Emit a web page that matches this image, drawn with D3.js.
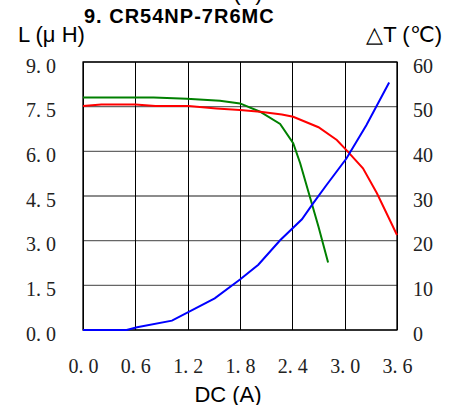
<!DOCTYPE html>
<html>
<head>
<meta charset="utf-8">
<script src="https://cdn.jsdelivr.net/npm/d3@7"></script>
<style>
  body { margin: 0; background: #fff; }
  svg { display: block; }
</style>
</head>
<body>
<svg></svg>
<script>
// current DC (A)
var xTicks = [0.0, 0.6, 1.2, 1.8, 2.4, 3.0, 3.6];
var lTicks = [0.0, 1.5, 3.0, 4.5, 6.0, 7.5, 9.0];
var tTicks = [0, 10, 20, 30, 40, 50, 60];

// inductance, red curve
var redA = [0.0, 0.21, 0.6, 0.83, 1.21, 1.53, 1.8, 2.03, 2.28, 2.41, 2.70, 2.91, 3.02, 3.21, 3.37, 3.6];
var redL = [7.52, 7.57, 7.57, 7.52, 7.52, 7.44, 7.39, 7.33, 7.24, 7.16, 6.81, 6.38, 6.04, 5.43, 4.59, 3.19];

// inductance, green curve
var greenA = [0.0, 0.81, 1.19, 1.57, 1.8, 2.03, 2.26, 2.41, 2.49, 2.60, 2.70, 2.81];
var greenL = [7.81, 7.81, 7.77, 7.70, 7.61, 7.33, 6.92, 6.27, 5.60, 4.48, 3.47, 2.27];

// temperature rise, blue curve
var blueA = [0.0, 0.5, 0.62, 1.02, 1.51, 1.8, 2.01, 2.26, 2.51, 2.64, 2.79, 3.02, 3.25, 3.51];
var blueT = [0, 0, 0.6, 2.1, 7.1, 11.3, 14.6, 20.1, 24.8, 28.4, 32.4, 38.4, 45.9, 55.4];

var width = 458;
var height = 405;
var plotLeft = 83, plotRight = 397, plotTop = 62, plotBottom = 330;

var x = d3.scaleLinear().domain([0, 3.6]).range([plotLeft, plotRight]);
var yL = d3.scaleLinear().domain([0, 9]).range([plotBottom, plotTop]);
var yT = d3.scaleLinear().domain([0, 60]).range([plotBottom, plotTop]);

var svg = d3.select('svg')
    .attr('width', width)
    .attr('height', height)
    .attr('viewBox', '0 0 ' + width + ' ' + height);

var serif = '"Liberation Serif", "DejaVu Serif", serif';
var sans = '"Liberation Sans", Arial, sans-serif';

// grid
svg.append('g')
    .selectAll('line')
    .data(lTicks)
    .enter()
    .append('line')
    .attr('x1', plotLeft).attr('x2', plotRight)
    .attr('y1', function (d) { return yL(d); })
    .attr('y2', function (d) { return yL(d); })
    .attr('stroke', '#666')
    .attr('stroke-width', 1.4);

svg.append('g')
    .selectAll('line')
    .data(xTicks)
    .enter()
    .append('line')
    .attr('y1', plotTop).attr('y2', plotBottom)
    .attr('x1', function (d) { return Math.round(x(d)) + 0.5; })
    .attr('x2', function (d) { return Math.round(x(d)) + 0.5; })
    .attr('stroke', '#000')
    .attr('stroke-width', 1);

svg.append('rect')
    .attr('x', plotLeft).attr('y', plotTop)
    .attr('width', plotRight - plotLeft).attr('height', plotBottom - plotTop)
    .attr('fill', 'none')
    .attr('stroke', '#000')
    .attr('stroke-width', 1.3);

// axes (labels only)
var fmt = function (d) { return d.toFixed(1).replace('.', '. '); };

var bottomAxis = d3.axisBottom(x).tickValues(xTicks).tickSize(0).tickPadding(0).tickFormat(fmt);
var gx = svg.append('g').attr('transform', 'translate(0,360)').call(bottomAxis);
gx.select('.domain').remove();
gx.selectAll('text')
    .attr('dy', null).attr('y', 13)
    .style('font-family', serif).style('font-size', '20px').attr('fill', '#222')
    .style('white-space', 'pre');

var leftAxis = d3.axisLeft(yL).tickValues(lTicks).tickSize(0).tickPadding(0).tickFormat(fmt);
var gl = svg.append('g').attr('transform', 'translate(56,0)').call(leftAxis);
gl.select('.domain').remove();
gl.selectAll('text')
    .attr('dy', '0.5em')
    .style('font-family', serif).style('font-size', '20px').attr('fill', '#222')
    .style('white-space', 'pre');

var rightAxis = d3.axisRight(yT).tickValues(tTicks).tickSize(0).tickPadding(0);
var gr = svg.append('g').attr('transform', 'translate(413,0)').call(rightAxis);
gr.select('.domain').remove();
gr.selectAll('text')
    .attr('dy', '0.5em')
    .style('font-family', serif).style('font-size', '20px').attr('fill', '#222');

// curves
var lineL = d3.line()
    .x(function (d) { return x(d[0]); })
    .y(function (d) { return yL(d[1]); });
var lineT = d3.line()
    .x(function (d) { return x(d[0]); })
    .y(function (d) { return yT(d[1]); });

svg.append('path')
    .attr('d', lineL(d3.zip(greenA, greenL)))
    .attr('fill', 'none').attr('stroke', '#008000').attr('stroke-width', 2);
svg.append('path')
    .attr('d', lineL(d3.zip(redA, redL)))
    .attr('fill', 'none').attr('stroke', '#ff0000').attr('stroke-width', 2);
svg.append('path')
    .attr('d', lineT(d3.zip(blueA, blueT)))
    .attr('fill', 'none').attr('stroke', '#0000ff').attr('stroke-width', 2);

// titles
svg.append('text')
    .attr('x', 229).attr('y', 0)
    .attr('text-anchor', 'middle')
    .style('font-family', sans).style('font-size', '22px')
    .text('DC (A)');

svg.append('text')
    .attr('x', 84).attr('y', 23)
    .style('font-family', sans).style('font-size', '20px').style('font-weight', 'bold')
    .style('letter-spacing', '1px')
    .text('9. CR54NP-7R6MC');

svg.append('text')
    .attr('x', 18).attr('y', 42)
    .style('font-family', sans).style('font-size', '22px')
    .style('white-space', 'pre')
    .text('L (μ H)');

svg.append('text')
    .attr('x', 442).attr('y', 42)
    .attr('text-anchor', 'end')
    .style('font-family', sans).style('font-size', '22px')
    .text('△T (℃)');

svg.append('text')
    .attr('x', 228).attr('y', 402)
    .attr('text-anchor', 'middle')
    .style('font-family', sans).style('font-size', '22px')
    .text('DC (A)');
</script>
</body>
</html>
